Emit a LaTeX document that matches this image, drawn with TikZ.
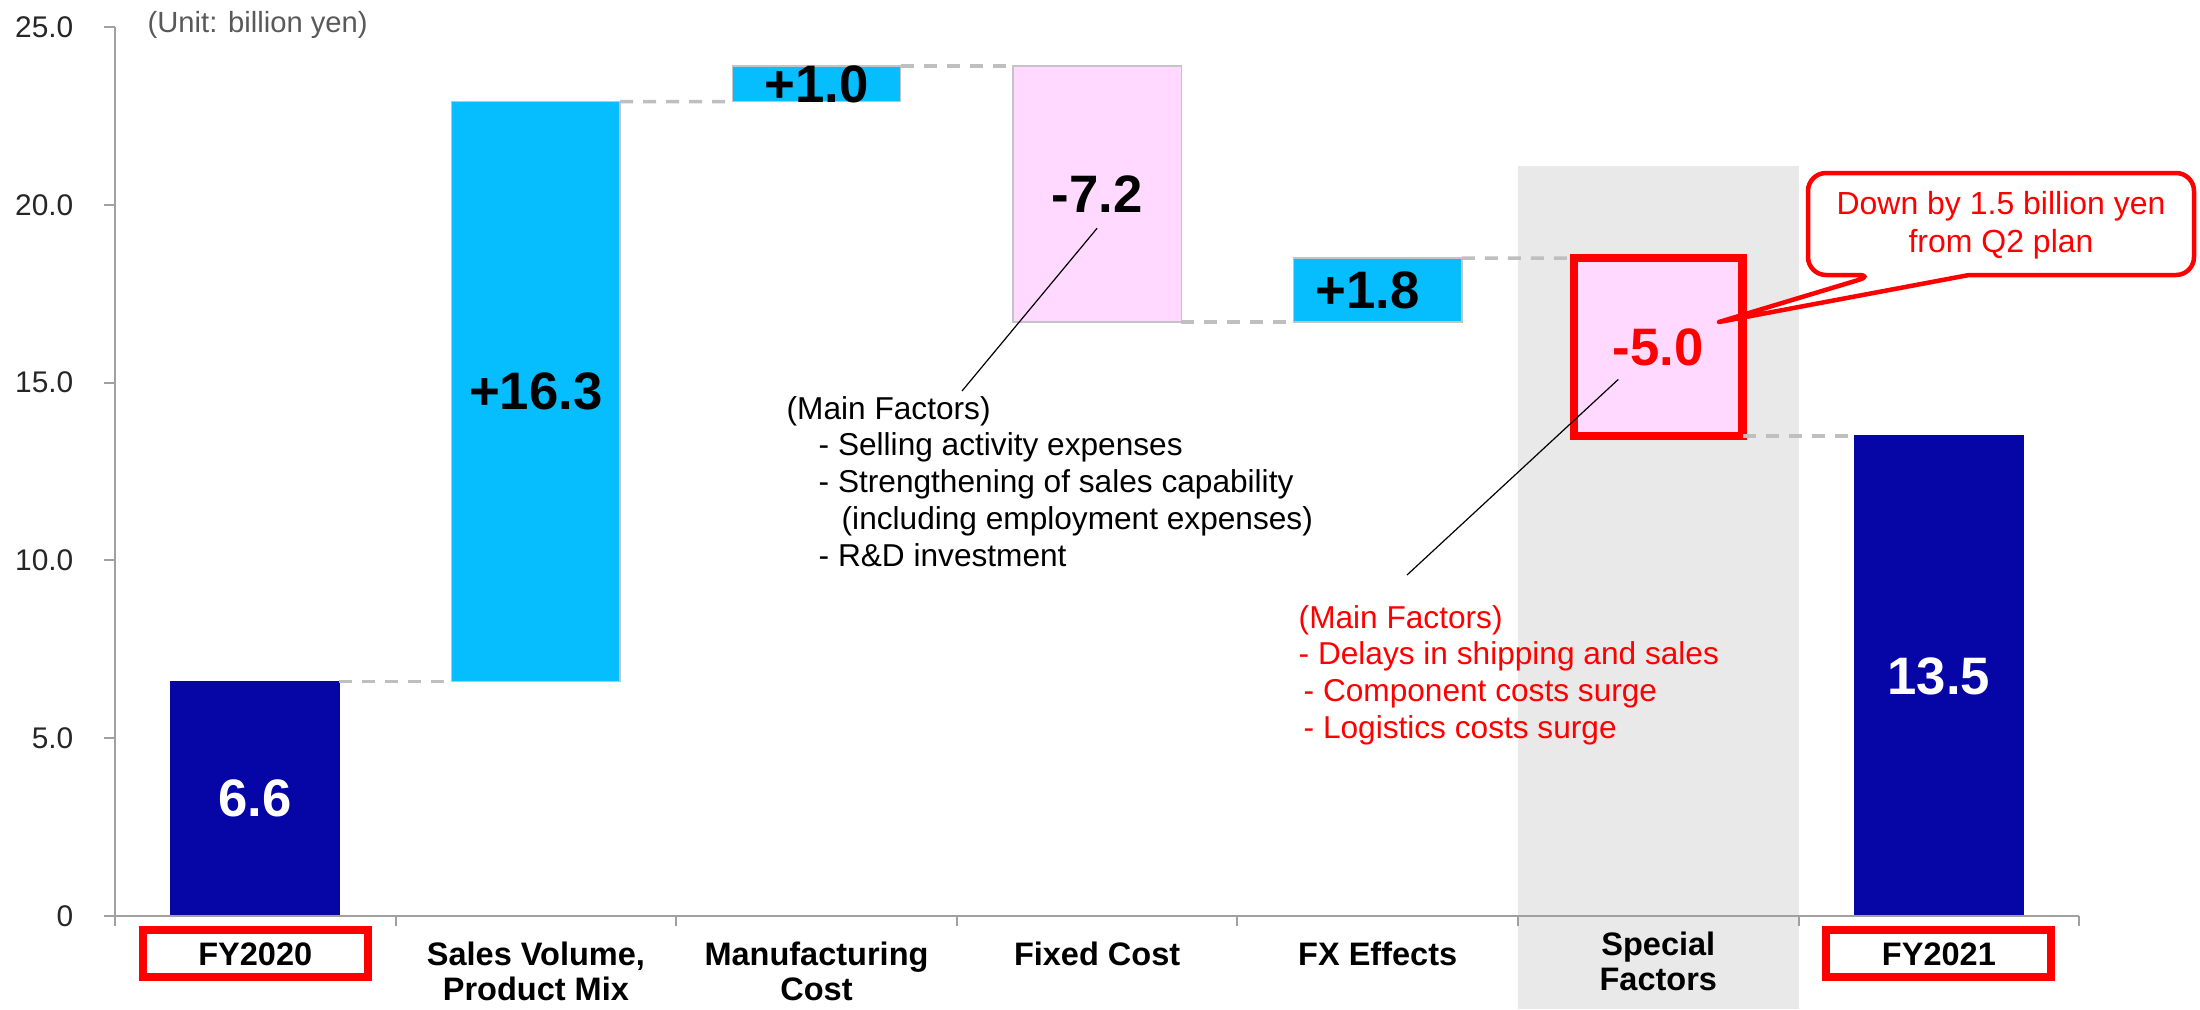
\documentclass[tikz,border=0pt]{standalone}
\usepackage{fontspec}
\setmainfont{Liberation Sans}
\usetikzlibrary{fit,positioning}

\definecolor{totblue}{HTML}{0606A6}
\definecolor{upblue}{HTML}{06BEFE}
\definecolor{downpink}{HTML}{FFD9FF}
\definecolor{barline}{HTML}{C4C4C4}
\definecolor{joingray}{HTML}{BFBFBF}
\definecolor{axisgray}{HTML}{A0A0A0}
\definecolor{specgray}{HTML}{E9E9E9}
\definecolor{unitgray}{HTML}{595959}
\definecolor{alertred}{HTML}{FF0000}

\begin{document}
\begin{tikzpicture}[
  wfbar/.style={inner sep=0pt, outer sep=0pt, draw=barline, line width=0.4pt},
  totbar/.style={wfbar, fill=totblue, draw=totblue},
  upbar/.style={wfbar, fill=upblue},
  downbar/.style={wfbar, fill=downpink},
  bigval/.style={inner sep=0pt, font=\fontsize{15}{15}\selectfont\bfseries},
  joinline/.style={draw=joingray, line width=0.035cm, dash pattern=on 0.13cm off 0.1cm},
  axisline/.style={draw=axisgray, line width=0.02cm},
  catlabel/.style={inner sep=0pt, align=center, font=\fontsize{9.25}{10}\selectfont\bfseries},
  catbox/.style={catlabel, draw=alertred, line width=0.08cm, fill=white, minimum width=2.25cm, minimum height=0.47cm},
  ylabel/.style={inner sep=0pt, anchor=east, font=\fontsize{8.5}{10}\selectfont, text=black!85},
  note/.style={inner sep=0pt, anchor=north west, align=left, font=\fontsize{9}{10.5}\selectfont},
]
\useasboundingbox (-1.15,-0.93) rectangle (20.85,9.16);

\begin{scope}[x=2.806cm, y=0.3556cm]
% band behind the special factors
\fill[specgray] (5,-2.62) rectangle (6,21.1);

% bars
\node[totbar, fit={(0.2,0) (0.8,6.6)}] (fy20) {};
\node[upbar, fit={(1.2,6.6) (1.8,22.9)}] (sales) {};
\node[upbar, fit={(2.2,22.9) (2.8,23.9)}] (manu) {};
\node[downbar, fit={(3.2,16.7) (3.8,23.9)}] (fixed) {};
\node[upbar, fit={(4.2,16.7) (4.8,18.5)}] (fx) {};
\node[downbar, draw=alertred, line width=0.085cm, fit={(5.2,13.5) (5.8,18.5)}] (special) {};
\node[totbar, fit={(6.2,0) (6.8,13.5)}] (fy21) {};

\draw[joinline] (fy20.north east) -- (sales.south west);
\draw[joinline] (sales.north east) -- (manu.south west);
\draw[joinline] (manu.north east) -- (fixed.north west);
\draw[joinline] (fixed.south east) -- (fx.south west);
\draw[joinline] (fx.north east) -- (special.north west);
\draw[joinline] (special.south east) -- (fy21.north west);

\node[bigval, text=white] (fy20val) at (fy20.center) {6.6};
\node[bigval] (salesval) at (sales.center) {+16.3};
\node[bigval] (manuval) at (manu.center) {+1.0};
\node[bigval] (fixval) at (fixed.center) {-7.2};
\node[bigval] (fxval) at ([xshift=-0.1cm]fx.center) {+1.8};
\node[bigval, text=alertred] (spval) at (special.center) {-5.0};
\node[bigval, text=white] (fy21val) at (fy21.center) {13.5};

% axes
\draw[axisline] (0,25) -- (0,0) -- (7,0);
\foreach \v/\t in {0/0, 5/5.0, 10/10.0, 15/15.0, 20/20.0, 25/25.0} {
  \draw[axisline] (0,\v) -- ++(-0.11cm,0);
  \node[ylabel] (ylab\v) at ([xshift=-0.41cm]0,\v) {\t};
}
\foreach \i in {0,...,7}
  \draw[axisline] (\i,0) -- ++(0,-0.1cm);
\end{scope}

\node[inner sep=0pt, anchor=west, font=\fontsize{8.3}{10}\selectfont, text=unitgray] (unit) at (0.32,8.91) {(Unit: billion yen)};

% category labels
\node[catbox, anchor=base] (fy20lab) at (1.403,-0.49) {FY2020};
\node[catlabel, anchor=north] (saleslab) at (4.209,-0.254) {Sales Volume,\\Product Mix};
\node[catlabel, anchor=north] (manulab) at (7.015,-0.254) {Manufacturing\\Cost};
\node[catlabel, anchor=base] (fixedlab) at (9.821,-0.49) {Fixed Cost};
\node[catlabel, anchor=base] (fxlab) at (12.627,-0.49) {FX Effects};
\node[catlabel, anchor=north] (speclab) at (15.433,-0.154) {Special\\Factors};
\node[catbox, anchor=base] (fy21lab) at (18.239,-0.49) {FY2021};

% notes
\node[note] (fixnote) at (6.71,5.206) {(Main Factors)\\\hspace*{0.32cm}- Selling activity expenses\\\hspace*{0.32cm}- Strengthening of sales capability\\\hspace*{0.55cm}(including employment expenses)\\\hspace*{0.32cm}- R\&D investment};
\node[note, text=alertred] (specnote) at (11.83,3.116) {(Main Factors)\\- Delays in shipping and sales\\\hspace*{0.05cm}- Component costs surge\\\hspace*{0.05cm}- Logistics costs surge};

\coordinate (fixend) at (8.47,5.25);
\draw[line width=0.012cm] ([yshift=-0.15cm]fixval.south) -- (fixend);
\coordinate (specend) at (12.92,3.41);
\draw[line width=0.012cm] ([xshift=-0.4cm,yshift=-0.13cm]spval.south) -- (specend);

% callout
\coordinate (calltip) at (16.04,5.94);
\draw[alertred, line width=0.045cm, line join=round, fill=white] (18.54,6.41) [rounded corners=0.18cm] -- (20.79,6.41) -- (20.79,7.43) -- (16.93,7.43) -- (16.93,6.41) -- (17.60,6.41) [sharp corners] -- (calltip) -- cycle;
\node[inner sep=0pt, align=center, text=alertred, font=\fontsize{9.1}{10.8}\selectfont] (callnote) at (18.86,6.91) {Down by 1.5 billion yen\\from Q2 plan};
\end{tikzpicture}
\end{document}
